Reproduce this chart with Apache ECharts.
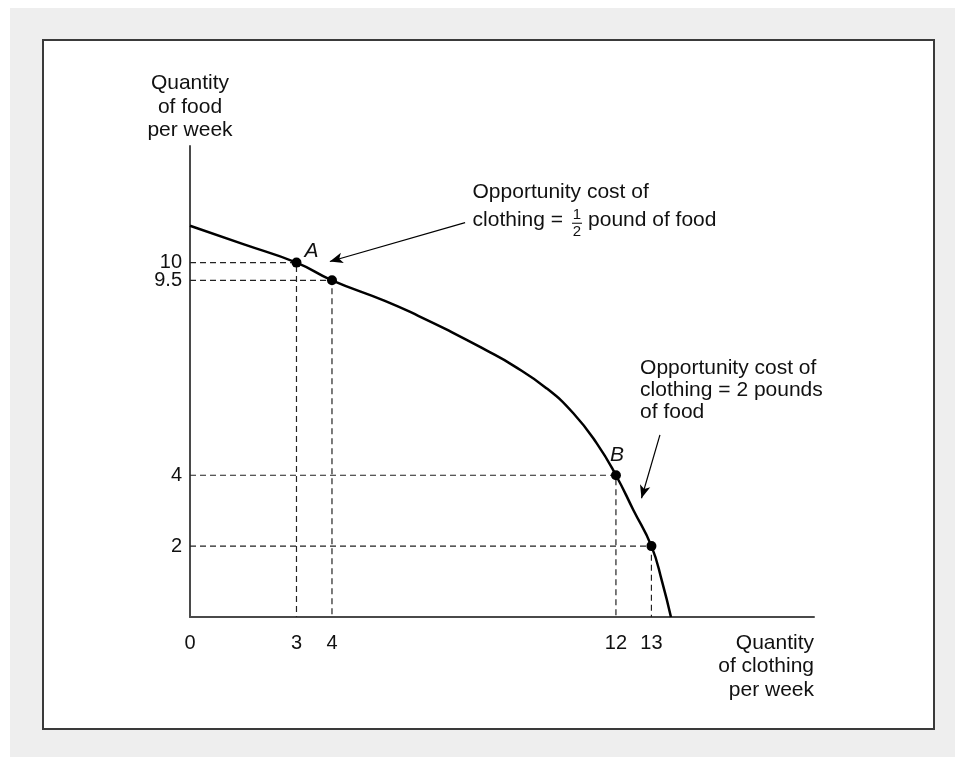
<!DOCTYPE html>
<html><head><meta charset="utf-8">
<script src="https://cdn.jsdelivr.net/npm/echarts@6/dist/echarts.min.js"></script>
<style>
html,body{margin:0;padding:0;background:#fff;}
#bg{position:absolute;left:10px;top:8px;width:945px;height:749px;background:#eeeeee;}
#box{position:absolute;left:42px;top:39px;width:893px;height:691px;box-sizing:border-box;background:#fff;border:2px solid #3a3a3a;}
#chart{position:absolute;left:0;top:0;width:955px;height:757px;}
</style></head><body>
<div id="bg"></div><div id="box"></div><div id="chart"></div>
<script>
// Production possibilities frontier
const clothing = [0, 1.5, 3, 4, 5.49, 6.43, 7.37, 8.3, 9.1, 10.05, 10.8, 11.46, 12, 12.49, 13, 13.3, 13.55];
const food     = [11.04, 10.52, 10, 9.5, 8.92, 8.5, 8.04, 7.55, 7.1, 6.45, 5.75, 4.9, 4, 3.02, 2, 1.0, 0];
const pointClothing = [3, 4, 12, 13];
const pointFood     = [10, 9.5, 4, 2];
const pointLabels   = ['A', '', 'B', ''];
const xTickValues = [0, 3, 4, 12, 13];
const yTickValuesLow = [2, 4, 9.5];
const yTickValuesHigh = [10];
const xAxisName = 'Quantity\nof clothing\nper week';
const yAxisName = 'Quantity\nof food\nper week';
const note1Line1 = 'Opportunity cost of';
const note1Left = 'clothing =';
const note1Num = '1';
const note1Den = '2';
const note1Right = 'pound of food';
const note2Lines = ['Opportunity cost of', 'clothing = 2 pounds', 'of food'];
const note1Anchor = [7.96, 11.98];
const note2Anchor = [12.68, 7.03];
const arrow1 = [[7.75, 11.13], [3.94, 10.03]];
const arrow2 = [[13.24, 5.14], [12.72, 3.35]];

const FONT = '"Liberation Sans", Arial, Helvetica, sans-serif';
const TXT = '#111';

const chart = echarts.init(document.getElementById('chart'), null, {renderer: 'canvas'});

const guideSeries = pointClothing.map((x, i) => ({
  type: 'line',
  data: [[0, pointFood[i]], [x, pointFood[i]], [x, 0]],
  symbol: 'none',
  silent: true,
  z: 1,
  lineStyle: {type: [6, 4], color: '#222', width: 1.2}
}));

const labelOffsets = {A: [15, -11], B: [1, -20]};
const yLabelStyle = {margin: 8, fontFamily: FONT, fontSize: 20, color: TXT,
  lineHeight: 14, hideOverlap: false, formatter: v => String(v)};

const option = {
  animation: false,
  backgroundColor: 'transparent',
  grid: {left: 190, top: 146, width: 624, height: 471, containLabel: false},
  xAxis: {
    type: 'value', min: 0, max: 17.58,
    name: xAxisName, nameLocation: 'end', nameGap: 0,
    nameTextStyle: {fontFamily: FONT, fontSize: 21, lineHeight: 23.5, color: TXT,
      align: 'right', verticalAlign: 'top', padding: [14, 0, 0, 0]},
    axisLine: {lineStyle: {color: '#4a4a4a', width: 2}},
    axisTick: {show: false},
    splitLine: {show: false},
    axisLabel: {customValues: xTickValues, margin: 16, fontFamily: FONT, fontSize: 20, color: TXT,
      hideOverlap: false, formatter: v => String(v)}
  },
  yAxis: [{
    type: 'value', min: 0, max: 13.29, position: 'left',
    name: yAxisName, nameLocation: 'end', nameGap: 4,
    nameTextStyle: {fontFamily: FONT, fontSize: 21, lineHeight: 23.5, color: TXT,
      align: 'center', verticalAlign: 'bottom'},
    axisLine: {lineStyle: {color: '#4a4a4a', width: 2}},
    axisTick: {show: false},
    splitLine: {show: false},
    axisLabel: Object.assign({customValues: yTickValuesLow}, yLabelStyle)
  }, {
    type: 'value', min: 0, max: 13.29, position: 'left', offset: 0,
    axisLine: {show: false},
    axisTick: {show: false},
    splitLine: {show: false},
    axisLabel: Object.assign({customValues: yTickValuesHigh}, yLabelStyle)
  }],
  series: guideSeries.concat([
    {
      type: 'line',
      data: clothing.map((x, i) => [x, food[i]]),
      smooth: 0.5,
      symbol: 'none',
      z: 3,
      lineStyle: {color: '#000', width: 2.5},
      markLine: {
        silent: true,
        symbol: ['none', 'arrow'],
        symbolSize: [8, 13],
        label: {show: false},
        lineStyle: {type: 'solid', color: '#000', width: 1.2},
        data: [
          [{coord: arrow1[0]}, {coord: arrow1[1]}],
          [{coord: arrow2[0]}, {coord: arrow2[1]}]
        ]
      }
    },
    {
      type: 'scatter',
      symbolSize: 10,
      z: 4,
      itemStyle: {color: '#000', opacity: 1},
      data: pointClothing.map((x, i) => ({
        value: [x, pointFood[i]],
        label: pointLabels[i] ? {
          show: true, formatter: pointLabels[i], position: 'inside',
          offset: labelOffsets[pointLabels[i]],
          fontFamily: FONT, fontSize: 21, fontStyle: 'italic', color: TXT
        } : {show: false}
      }))
    }
  ])
};
chart.setOption(option);

// annotations positioned from data coordinates
const ctx = document.createElement('canvas').getContext('2d');
ctx.font = '21px ' + FONT;
const wLeft = ctx.measureText(note1Left).width;

const p1 = chart.convertToPixel({gridIndex: 0}, note1Anchor);
const p2 = chart.convertToPixel({gridIndex: 0}, note2Anchor);

function txt(text, x, y, size, align) {
  return {type: 'text', silent: true, z: 10,
    style: {text: text, x: x, y: y, font: size + 'px ' + FONT, fill: TXT,
      textAlign: align || 'left', textVerticalAlign: 'middle', align: align || 'left', verticalAlign: 'middle'}};
}
const l2y = p1[1] + 27.5;
const fracX = p1[0] + wLeft + 14;
const graphics = [
  txt(note1Line1, p1[0], p1[1], 21),
  txt(note1Left, p1[0], l2y, 21),
  txt(note1Num, fracX, l2y - 5.5, 15, 'center'),
  {type: 'line', silent: true, z: 10, shape: {x1: fracX - 5, y1: l2y + 3.3, x2: fracX + 5, y2: l2y + 3.3},
    style: {stroke: '#000', lineWidth: 1}},
  txt(note1Den, fracX, l2y + 12, 15, 'center'),
  txt(note1Right, fracX + 11, l2y, 21)
];
note2Lines.forEach((s, i) => graphics.push(txt(s, p2[0], p2[1] + i * 22, 21)));
chart.setOption({graphic: graphics});
</script></body></html>
